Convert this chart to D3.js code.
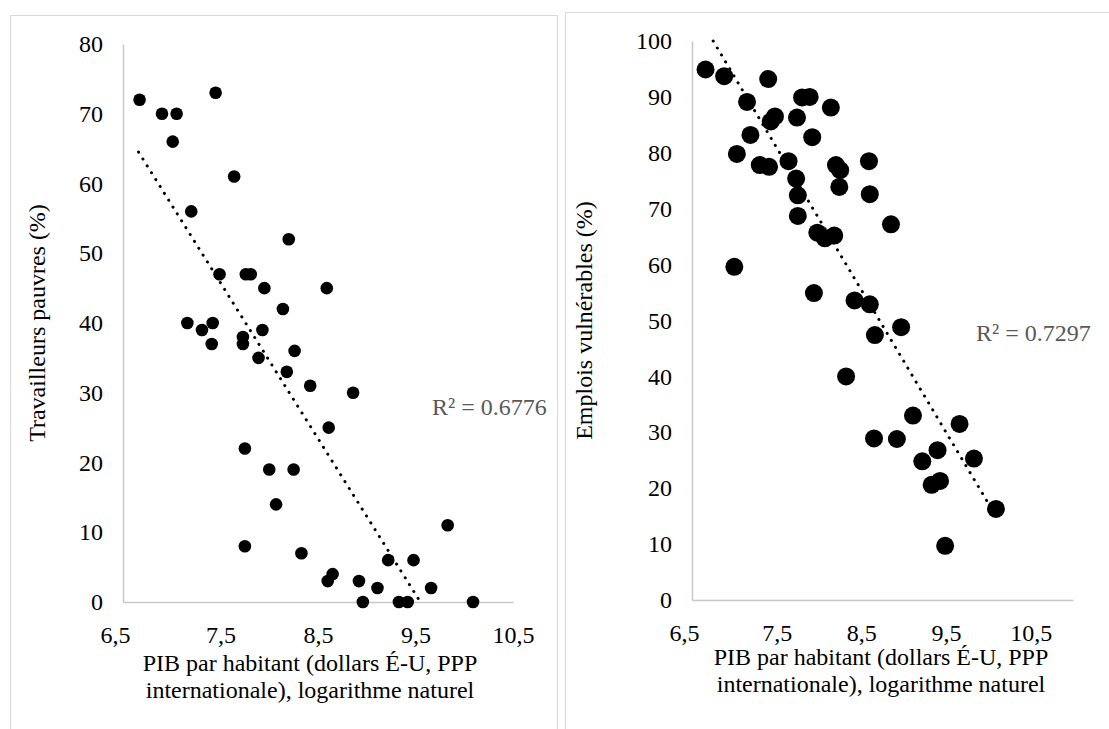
<!DOCTYPE html>
<meta charset="utf-8">
<style>
  body { margin: 0; background: #fff; }
  #chart text { font-family: "Liberation Serif", "Times New Roman", Tinos, "DejaVu Serif", serif !important; }
</style>
<body>
<svg id="chart" width="1109" height="729"></svg>
</body>
<script src="https://d3js.org/d3.v7.min.js"></script>
<script>
// data (x = ln GDP per capita)
var poorX = [6.67, 6.90, 7.05, 7.45, 7.01, 7.64, 7.20, 8.20, 7.49, 7.76, 7.81, 7.95, 8.59, 8.14, 7.16,
             7.42, 7.31, 7.93, 7.73, 7.41, 7.73, 8.26, 7.89, 8.18, 8.42, 8.86, 8.61, 7.75, 8.00, 8.25,
             8.07, 9.83, 7.75, 8.33, 9.22, 9.48, 8.65, 8.60, 8.92, 9.11, 9.66, 8.96, 9.33, 9.42, 10.09];
var poorY = [72, 70, 70, 73, 66, 61, 56, 52, 47, 47, 47, 45, 45, 42, 40,
             40, 39, 39, 38, 37, 37, 36, 35, 33, 31, 30, 25, 22, 19, 19,
             14, 11, 8, 7, 6, 6, 4, 3, 3, 2, 2, 0, 0, 0, 0];
var vulnX = [6.66, 6.88, 7.40, 7.15, 7.80, 7.89, 8.14, 7.48, 7.43, 7.74, 7.19, 7.92, 7.03, 7.30, 7.41, 7.64,
             8.20, 8.25, 8.59, 7.73, 8.24, 7.75, 8.60, 7.75, 8.85, 7.98, 8.07, 8.18, 7.00, 7.94, 8.42,
             8.60, 8.66, 8.97, 8.32, 9.11, 9.66, 8.65, 8.92, 9.40, 9.22, 9.83, 9.33, 9.43, 10.09, 9.49];
var vulnY = [94.9, 93.7, 93.2, 89.1, 89.9, 90.0, 88.1, 86.5, 85.6, 86.3, 83.2, 82.8, 79.8, 77.8, 77.5, 78.5,
             77.8, 76.9, 78.5, 75.4, 73.9, 72.4, 72.6, 68.7, 67.2, 65.7, 64.7, 65.2, 59.6, 54.9, 53.6,
             52.9, 47.4, 48.8, 40.0, 33.0, 31.5, 28.9, 28.8, 26.8, 24.8, 25.3, 20.6, 21.3, 16.3, 9.7];

// trend line end points (as drawn, clipped at the axis limits)
var poorTrend = [[6.66, 64.5], [9.55, 0]];
var vulnTrend = [[6.75, 100], [10.09, 15]];

var xTicks = [6.5, 7.5, 8.5, 9.5, 10.5];
var poorYTicks = [0, 10, 20, 30, 40, 50, 60, 70, 80];
var vulnYTicks = [0, 10, 20, 30, 40, 50, 60, 70, 80, 90, 100];

var xTitle = ["PIB par habitant (dollars É-U, PPP", "internationale), logarithme naturel"];

var FONT = "'Liberation Serif', 'Times New Roman', Tinos, 'DejaVu Serif', serif";
var FS = 24;

var svg = d3.select("#chart");

// panel frames
svg.append("rect").attr("x", 10.5).attr("y", 15.5).attr("width", 547).attr("height", 740)
  .attr("fill", "none").attr("stroke", "#d9d9d9");
svg.append("rect").attr("x", 565.5).attr("y", 12.5).attr("width", 560).attr("height", 740)
  .attr("fill", "none").attr("stroke", "#d9d9d9");

drawPanel({
  xs: poorX, ys: poorY, trend: poorTrend, yTicks: poorYTicks,
  xDom: [6.5, 10.5], xRange: [123, 513], yDom: [0, 80], yRange: [602, 44],
  r: 6.3, yTitle: "Travailleurs pauvres (%)", yTitleX: 37, r2: "R² = 0.6776", r2x: 432, r2y: 407,
  titleX: 310, titleY: 663
});
drawPanel({
  xs: vulnX, ys: vulnY, trend: vulnTrend, yTicks: vulnYTicks,
  xDom: [6.5, 11], xRange: [692, 1073], yDom: [0, 100], yRange: [600, 41],
  r: 9, yTitle: "Emplois vulnérables (%)", yTitleX: 584, r2: "R² = 0.7297", r2x: 976, r2y: 333,
  titleX: 881, titleY: 657
});

function drawPanel(p) {
  var x = d3.scaleLinear().domain(p.xDom).range(p.xRange),
      y = d3.scaleLinear().domain(p.yDom).range(p.yRange);
  var g = svg.append("g");

  var xAxis = d3.axisBottom(x).tickValues(xTicks).tickSize(0).tickPadding(24)
    .tickFormat(function(d) { return d3.format(".1f")(d).replace(".", ","); });
  var yAxis = d3.axisLeft(y).tickValues(p.yTicks).tickSize(0).tickPadding(20);

  var gx = g.append("g").attr("transform", "translate(0," + y.range()[0] + ")").call(xAxis);
  var gy = g.append("g").attr("transform", "translate(" + x.range()[0] + ",0)").call(yAxis);
  [gx, gy].forEach(function(a) {
    a.attr("font-family", FONT).attr("font-size", FS);
    a.select(".domain").attr("stroke", "#c8c8c8").attr("stroke-width", 1.5);
    a.selectAll(".tick text")
      .attr("font-family", FONT).attr("font-size", FS)
      .style("font-size", FS + "px").style("font-family", FONT)
      .attr("fill", "#000");
  });
  gx.selectAll(".tick text").filter(function(d, i) { return i === 0; }).attr("dx", -8);

  // trend line
  g.append("path")
    .attr("d", d3.line().x(function(d) { return x(d[0]); }).y(function(d) { return y(d[1]); })(p.trend))
    .attr("fill", "none").attr("stroke", "#000").attr("stroke-width", 3)
    .attr("stroke-linecap", "round").attr("stroke-dasharray", "0.1,8");

  g.selectAll("circle.pt").data(p.xs).enter().append("circle")
    .attr("class", "pt")
    .attr("cx", function(d) { return x(d); })
    .attr("cy", function(d, i) { return y(p.ys[i]); })
    .attr("r", p.r).attr("fill", "#000");

  g.append("text").attr("x", p.r2x).attr("y", p.r2y).attr("dy", "0.35em")
    .style("font-size", FS + "px").style("font-family", FONT)
    .attr("fill", "#595959").text(p.r2);

  var midY = (y.range()[0] + y.range()[1]) / 2;
  g.append("text")
    .attr("transform", "translate(" + p.yTitleX + "," + midY + ") rotate(-90)")
    .attr("text-anchor", "middle").attr("dy", "0.35em")
    .style("font-size", FS + "px").style("font-family", FONT)
    .attr("fill", "#000").text(p.yTitle);

  g.selectAll("text.xt").data(xTitle).enter().append("text")
    .attr("class", "xt")
    .attr("x", p.titleX).attr("y", function(d, i) { return p.titleY + i * 27; })
    .attr("dy", "0.35em").attr("text-anchor", "middle")
    .style("font-size", FS + "px").style("font-family", FONT)
    .attr("fill", "#000").text(function(d) { return d; });
}
</script>
